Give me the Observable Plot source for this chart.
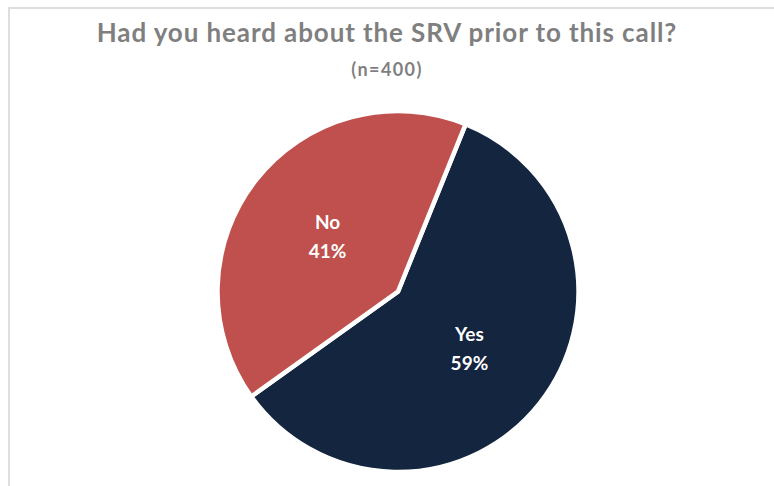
<!DOCTYPE html>
<html>
<head>
<meta charset="utf-8">
<script src="https://cdn.jsdelivr.net/npm/d3@7"></script>
<script src="https://cdn.jsdelivr.net/npm/@observablehq/plot@0.6"></script>
<style>
  html, body { margin: 0; padding: 0; background: #fff; }
  #wrap { position: relative; width: 774px; height: 486px; overflow: hidden; font-family: Lato, "Open Sans", sans-serif; }
  #frame { position: absolute; left: 8px; top: 7px; width: 800px; height: 520px; border-left: 2px solid #dedede; border-top: 2px solid #dedede; box-sizing: border-box; pointer-events: none; }
  #head { height: 90px; position: relative; }
  #title { position: absolute; left: 0; width: 774px; top: 16px; text-align: center; font-weight: 700; font-size: 26px; color: #7f7f7f; letter-spacing: 0.9px; }
  #sub { position: absolute; left: 0; width: 774px; top: 58px; text-align: center; font-weight: 700; font-size: 18px; color: #7f7f7f; letter-spacing: 1.4px; }
  #chart svg { display: block; }
</style>
</head>
<body>
<div id="wrap">
  <div id="frame"></div>
  <div id="head">
    <div id="title"></div>
    <div id="sub"></div>
  </div>
  <div id="chart"></div>
</div>
<script>
const titleText = "Had you heard about the SRV prior to this call?";
const subtitleText = "(n=400)";
const categories = ["Yes", "No"];
const values = [59, 41];
const colors = ["#13253f", "#c0504d"];
const startDeg = 22;

document.getElementById("title").textContent = titleText;
document.getElementById("sub").textContent = subtitleText;

const data = categories.map((c, i) => ({category: c, value: values[i], color: colors[i]}));
const pie = d3.pie().sort(null).value(d => d.value)
  .startAngle(startDeg * Math.PI / 180)
  .endAngle(startDeg * Math.PI / 180 + 2 * Math.PI);
const arcs = pie(data);
const unitArc = d3.arc().innerRadius(0).outerRadius(1);
const labels = arcs.map(a => {
  const c = unitArc.centroid(a);
  return {x: c[0], y: -c[1], text: a.data.category + "\n" + a.data.value + "%"};
});

function pieMark(index, scales, vals, dimensions) {
  const cx = scales.x(0), cy = scales.y(0);
  const r = scales.x(1) - scales.x(0);
  const arc = d3.arc().innerRadius(0).outerRadius(r);
  const g = d3.create("svg:g").attr("transform", `translate(${cx},${cy})`);
  g.selectAll("path").data(arcs).join("path")
    .attr("d", arc)
    .attr("fill", d => d.data.color)
    .attr("stroke", "#fff")
    .attr("stroke-width", 4.5)
    .attr("stroke-linejoin", "miter");
  return g.node();
}

const plot = Plot.plot({
  width: 774,
  height: 396,
  marginLeft: 217.5,
  marginRight: 774 - 578.5,
  marginTop: 21,
  marginBottom: 14,
  x: {domain: [-1, 1], axis: null},
  y: {domain: [-1, 1], axis: null},
  style: {fontFamily: "Lato, 'Open Sans', sans-serif", background: "transparent"},
  marks: [
    pieMark,
    Plot.text(labels, {
      x: "x", y: "y", text: "text",
      fill: "#fff", fontSize: 19, fontWeight: 700,
      lineHeight: 1.55, dy: -2
    })
  ]
});
document.getElementById("chart").appendChild(plot);
</script>
</body>
</html>
